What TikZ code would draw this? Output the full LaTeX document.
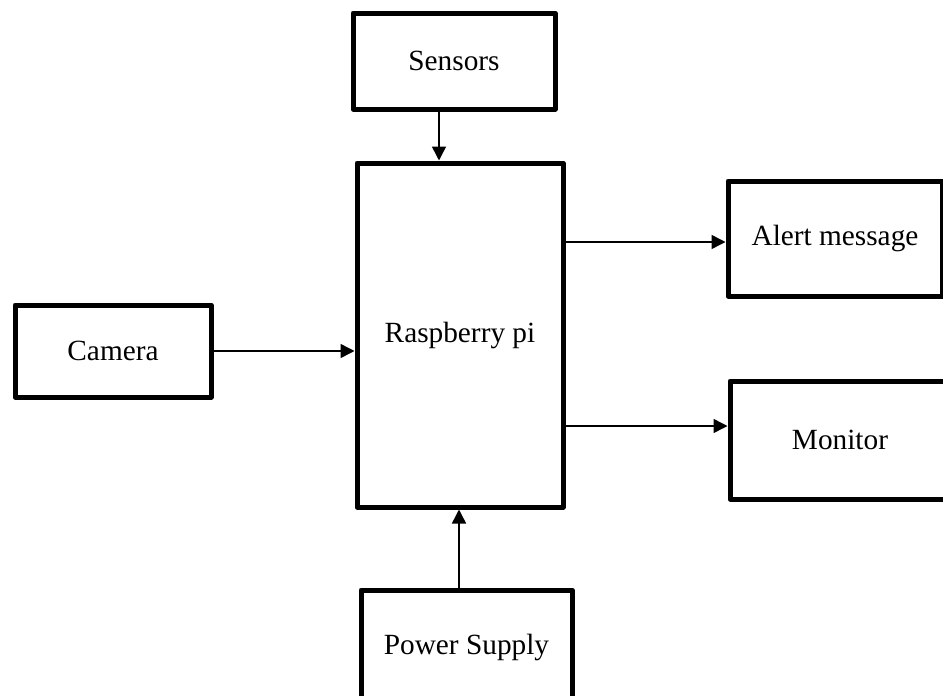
\documentclass[tikz,border=0pt]{standalone}
\usepackage{fontspec}
\setmainfont{Liberation Serif}
\usetikzlibrary{arrows.meta,calc}
\begin{document}
\begin{tikzpicture}[x=1pt,y=-1pt,
  blk/.style={draw=black,line width=5pt,line join=round,fill=white,inner sep=0pt,
    font=\fontsize{29.3}{35}\selectfont},
  arr/.style={draw=black,line width=1.5pt,-{Triangle[length=14pt,width=14pt]}}]
\useasboundingbox (0,0) rectangle (943,696);
\clip (0,0) rectangle (943,696);
\node[blk,minimum width=202pt,minimum height=96pt] (sensors) at (454,61) {Sensors};
\node[blk,minimum width=206pt,minimum height=344pt] (rpi) at (460,335) {Raspberry pi};
\node[blk,minimum width=214pt,minimum height=115pt] (alert) at (835,238.5) {Alert message};
\node[blk,minimum width=196pt,minimum height=92pt] (camera) at (113,351) {Camera};
\node[blk,minimum width=220pt,minimum height=118pt] (monitor) at (840,440) {Monitor};
\node[blk,minimum width=211pt,minimum height=114pt] (power) at (466.5,647) {Power Supply};
\coordinate (s1) at ([xshift=-15pt]sensors.south);
\draw[arr] (s1) -- (s1 |- rpi.north);
\draw[arr] (camera.east) -- (camera.east -| rpi.west);
\coordinate (a1) at ([yshift=-3.5pt]alert.west);
\draw[arr] (a1 -| rpi.east) -- (a1);
\coordinate (m1) at ([yshift=14pt]monitor.west);
\draw[arr] (m1 -| rpi.east) -- (m1);
\coordinate (p1) at ([xshift=-7.5pt]power.north);
\draw[arr] (p1) -- (p1 |- rpi.south);
\end{tikzpicture}
\end{document}
